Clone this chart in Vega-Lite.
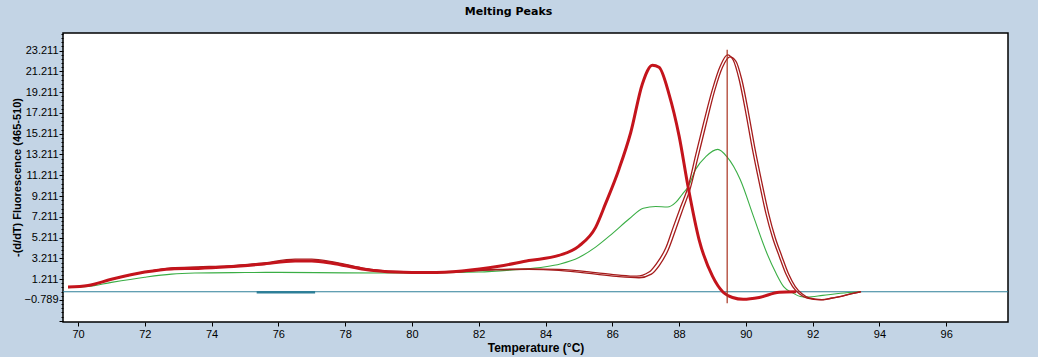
{
  "$schema": "https://vega.github.io/schema/vega-lite/v6.json",
  "autosize": "none",
  "width": 945,
  "height": 289,
  "padding": {"left": 63, "top": 33, "right": 30, "bottom": 35},
  "background": "#c3d4e5",
  "view": {"fill": "#ffffff", "stroke": "#000000", "strokeWidth": 1.5},
  "title": {"text": "Melting Peaks", "font": "DejaVu Sans", "fontSize": 11, "fontWeight": "bold", "color": "#000000", "anchor": "middle", "dx": -27, "offset": 11},
  "datasets": {
    "curves": [
      {"s": "A", "t": 69.7, "v": 0.45}, {"s": "A", "t": 70.3, "v": 0.6}, {"s": "A", "t": 71, "v": 1.2}, {"s": "A", "t": 72, "v": 1.9}, {"s": "A", "t": 72.8, "v": 2.2}, {"s": "A", "t": 73.6, "v": 2.25}, {"s": "A", "t": 74.5, "v": 2.4}, {"s": "A", "t": 75.5, "v": 2.65}, {"s": "A", "t": 76.5, "v": 2.95}, {"s": "A", "t": 77, "v": 2.95}, {"s": "A", "t": 77.6, "v": 2.75}, {"s": "A", "t": 78.5, "v": 2.2}, {"s": "A", "t": 79.5, "v": 1.9}, {"s": "A", "t": 80.5, "v": 1.85}, {"s": "A", "t": 81.5, "v": 2.0}, {"s": "A", "t": 82.6, "v": 2.45}, {"s": "A", "t": 83.5, "v": 3.0}, {"s": "A", "t": 84.4, "v": 3.5}, {"s": "A", "t": 85, "v": 4.4}, {"s": "A", "t": 85.5, "v": 6.2}, {"s": "A", "t": 85.8, "v": 8.5}, {"s": "A", "t": 86.2, "v": 11.8}, {"s": "A", "t": 86.55, "v": 15.3}, {"s": "A", "t": 86.9, "v": 20.0}, {"s": "A", "t": 87.2, "v": 21.8}, {"s": "A", "t": 87.4, "v": 21.6}, {"s": "A", "t": 87.7, "v": 19.0}, {"s": "A", "t": 88.0, "v": 15.0}, {"s": "A", "t": 88.27, "v": 10.1}, {"s": "A", "t": 88.6, "v": 5.0}, {"s": "A", "t": 89.0, "v": 1.5}, {"s": "A", "t": 89.32, "v": -0.05}, {"s": "A", "t": 89.6, "v": -0.55}, {"s": "A", "t": 89.92, "v": -0.72}, {"s": "A", "t": 90.4, "v": -0.55}, {"s": "A", "t": 91.0, "v": -0.05}, {"s": "A", "t": 91.5, "v": 0.0},

      {"s": "B1", "t": 69.7, "v": 0.45}, {"s": "B1", "t": 70.3, "v": 0.6}, {"s": "B1", "t": 71, "v": 1.2}, {"s": "B1", "t": 72, "v": 1.9}, {"s": "B1", "t": 72.8, "v": 2.3}, {"s": "B1", "t": 73.6, "v": 2.4}, {"s": "B1", "t": 74.5, "v": 2.5}, {"s": "B1", "t": 75.5, "v": 2.75}, {"s": "B1", "t": 76.5, "v": 3.15}, {"s": "B1", "t": 77, "v": 3.15}, {"s": "B1", "t": 77.6, "v": 2.9}, {"s": "B1", "t": 78.5, "v": 2.3}, {"s": "B1", "t": 79.5, "v": 1.95}, {"s": "B1", "t": 80.5, "v": 1.9}, {"s": "B1", "t": 81.5, "v": 2.0}, {"s": "B1", "t": 82.5, "v": 2.15}, {"s": "B1", "t": 83.5, "v": 2.2}, {"s": "B1", "t": 84.4, "v": 2.15}, {"s": "B1", "t": 85.5, "v": 1.85}, {"s": "B1", "t": 86.2, "v": 1.6}, {"s": "B1", "t": 86.73, "v": 1.5}, {"s": "B1", "t": 87.1, "v": 1.9}, {"s": "B1", "t": 87.33, "v": 2.74}, {"s": "B1", "t": 87.6, "v": 4.2}, {"s": "B1", "t": 87.83, "v": 6.27}, {"s": "B1", "t": 88.05, "v": 8.2}, {"s": "B1", "t": 88.27, "v": 10.1}, {"s": "B1", "t": 88.5, "v": 13.2}, {"s": "B1", "t": 88.73, "v": 16.2}, {"s": "B1", "t": 89.0, "v": 19.5}, {"s": "B1", "t": 89.23, "v": 21.7}, {"s": "B1", "t": 89.45, "v": 22.8}, {"s": "B1", "t": 89.62, "v": 22.3}, {"s": "B1", "t": 89.8, "v": 20.4}, {"s": "B1", "t": 90.0, "v": 17.2}, {"s": "B1", "t": 90.2, "v": 13.65}, {"s": "B1", "t": 90.4, "v": 10.5}, {"s": "B1", "t": 90.6, "v": 7.55}, {"s": "B1", "t": 90.8, "v": 5.2}, {"s": "B1", "t": 91.0, "v": 3.4}, {"s": "B1", "t": 91.2, "v": 1.7}, {"s": "B1", "t": 91.4, "v": 0.5}, {"s": "B1", "t": 91.6, "v": -0.2}, {"s": "B1", "t": 91.83, "v": -0.62}, {"s": "B1", "t": 92.23, "v": -0.79}, {"s": "B1", "t": 92.53, "v": -0.65}, {"s": "B1", "t": 92.83, "v": -0.47}, {"s": "B1", "t": 93.13, "v": -0.2}, {"s": "B1", "t": 93.43, "v": 0.0},

      {"s": "B2", "t": 69.7, "v": 0.45}, {"s": "B2", "t": 70.3, "v": 0.6}, {"s": "B2", "t": 71, "v": 1.2}, {"s": "B2", "t": 72, "v": 1.9}, {"s": "B2", "t": 72.8, "v": 2.25}, {"s": "B2", "t": 73.6, "v": 2.35}, {"s": "B2", "t": 74.5, "v": 2.45}, {"s": "B2", "t": 75.5, "v": 2.7}, {"s": "B2", "t": 76.5, "v": 3.0}, {"s": "B2", "t": 77, "v": 3.0}, {"s": "B2", "t": 77.6, "v": 2.8}, {"s": "B2", "t": 78.5, "v": 2.25}, {"s": "B2", "t": 79.5, "v": 1.9}, {"s": "B2", "t": 80.5, "v": 1.85}, {"s": "B2", "t": 81.5, "v": 1.95}, {"s": "B2", "t": 82.5, "v": 2.1}, {"s": "B2", "t": 83.5, "v": 2.15}, {"s": "B2", "t": 84.4, "v": 2.05}, {"s": "B2", "t": 85.5, "v": 1.7}, {"s": "B2", "t": 86.2, "v": 1.45}, {"s": "B2", "t": 86.8, "v": 1.35}, {"s": "B2", "t": 87.17, "v": 1.7}, {"s": "B2", "t": 87.4, "v": 2.5}, {"s": "B2", "t": 87.67, "v": 4.0}, {"s": "B2", "t": 87.9, "v": 6.0}, {"s": "B2", "t": 88.12, "v": 8.0}, {"s": "B2", "t": 88.34, "v": 10.0}, {"s": "B2", "t": 88.57, "v": 13.0}, {"s": "B2", "t": 88.8, "v": 16.0}, {"s": "B2", "t": 89.07, "v": 19.4}, {"s": "B2", "t": 89.3, "v": 21.6}, {"s": "B2", "t": 89.52, "v": 22.6}, {"s": "B2", "t": 89.7, "v": 22.2}, {"s": "B2", "t": 89.88, "v": 20.4}, {"s": "B2", "t": 90.08, "v": 17.2}, {"s": "B2", "t": 90.28, "v": 13.65}, {"s": "B2", "t": 90.48, "v": 10.5}, {"s": "B2", "t": 90.68, "v": 7.55}, {"s": "B2", "t": 90.88, "v": 5.2}, {"s": "B2", "t": 91.08, "v": 3.4}, {"s": "B2", "t": 91.28, "v": 1.7}, {"s": "B2", "t": 91.48, "v": 0.5}, {"s": "B2", "t": 91.68, "v": -0.2}, {"s": "B2", "t": 91.9, "v": -0.6}, {"s": "B2", "t": 92.28, "v": -0.75}, {"s": "B2", "t": 92.58, "v": -0.6}, {"s": "B2", "t": 92.88, "v": -0.42}, {"s": "B2", "t": 93.18, "v": -0.17}, {"s": "B2", "t": 93.45, "v": 0.0},

      {"s": "G", "t": 69.7, "v": 0.4}, {"s": "G", "t": 70.3, "v": 0.5}, {"s": "G", "t": 71, "v": 0.9}, {"s": "G", "t": 72, "v": 1.4}, {"s": "G", "t": 72.8, "v": 1.7}, {"s": "G", "t": 73.5, "v": 1.8}, {"s": "G", "t": 75, "v": 1.85}, {"s": "G", "t": 76, "v": 1.87}, {"s": "G", "t": 78, "v": 1.82}, {"s": "G", "t": 80, "v": 1.8}, {"s": "G", "t": 82, "v": 1.9}, {"s": "G", "t": 83, "v": 2.1}, {"s": "G", "t": 84, "v": 2.4}, {"s": "G", "t": 84.44, "v": 2.68}, {"s": "G", "t": 85, "v": 3.3}, {"s": "G", "t": 85.5, "v": 4.3}, {"s": "G", "t": 86, "v": 5.6}, {"s": "G", "t": 86.5, "v": 7.0}, {"s": "G", "t": 86.93, "v": 8.04}, {"s": "G", "t": 87.3, "v": 8.2}, {"s": "G", "t": 87.65, "v": 8.15}, {"s": "G", "t": 87.9, "v": 8.6}, {"s": "G", "t": 88.1, "v": 9.4}, {"s": "G", "t": 88.27, "v": 10.1}, {"s": "G", "t": 88.5, "v": 11.8}, {"s": "G", "t": 88.8, "v": 13.0}, {"s": "G", "t": 89.16, "v": 13.7}, {"s": "G", "t": 89.43, "v": 13.0}, {"s": "G", "t": 89.83, "v": 10.8}, {"s": "G", "t": 90.23, "v": 7.23}, {"s": "G", "t": 90.63, "v": 3.7}, {"s": "G", "t": 90.9, "v": 1.8}, {"s": "G", "t": 91.13, "v": 0.5}, {"s": "G", "t": 91.4, "v": -0.1}, {"s": "G", "t": 91.63, "v": -0.45}, {"s": "G", "t": 91.83, "v": -0.5}, {"s": "G", "t": 92.3, "v": -0.35}, {"s": "G", "t": 92.83, "v": -0.15}, {"s": "G", "t": 93.43, "v": 0.0}
    ],
    "baseline": [
      {"s": "base", "t": 69.55, "v": 0.0}, {"s": "base", "t": 97.85, "v": 0.0}
    ],
    "segment": [
      {"s": "seg", "t": 75.35, "v": -0.05}, {"s": "seg", "t": 77.1, "v": -0.05}
    ],
    "marker": [
      {"t": 89.44, "v1": -1.1, "v2": 23.3}
    ]
  },
  "encoding": {
    "x": {
      "field": "t", "type": "quantitative",
      "scale": {"domain": [69.55, 97.85], "nice": false, "zero": false},
      "axis": {
        "title": "Temperature (°C)",
        "values": [70, 72, 74, 76, 78, 80, 82, 84, 86, 88, 90, 92, 94, 96],
        "grid": false, "domain": false, "tickColor": "#000000", "tickSize": 4,
        "labelFont": "Liberation Sans", "labelFontSize": 11, "labelColor": "#000000", "labelPadding": 2,
        "titleFont": "Liberation Sans", "titleFontSize": 12, "titleFontWeight": "bold", "titleColor": "#000000", "titlePadding": 3
      }
    },
    "y": {
      "field": "v", "type": "quantitative",
      "scale": {"domain": [-2.91, 24.9], "nice": false, "zero": false},
      "axis": {
        "title": "-(d/dT) Fluorescence (465-510)",
        "values": [-2.789, -2.389, -1.989, -1.589, -1.189, -0.789, -0.389, 0.011, 0.411, 0.811, 1.211, 1.611, 2.011, 2.411, 2.811, 3.211, 3.611, 4.011, 4.411, 4.811, 5.211, 5.611, 6.011, 6.411, 6.811, 7.211, 7.611, 8.011, 8.411, 8.811, 9.211, 9.611, 10.011, 10.411, 10.811, 11.211, 11.611, 12.011, 12.411, 12.811, 13.211, 13.611, 14.011, 14.411, 14.811, 15.211, 15.611, 16.011, 16.411, 16.811, 17.211, 17.611, 18.011, 18.411, 18.811, 19.211, 19.611, 20.011, 20.411, 20.811, 21.211, 21.611, 22.011, 22.411, 22.811, 23.211, 23.611, 24.011, 24.411, 24.811],
        "labelExpr": "abs((datum.value+0.789)/2 - round((datum.value+0.789)/2)) < 0.01 && datum.value > -1 ? format(datum.value, '.3f') : ''",
        "tickSize": {"condition": {"test": "abs((datum.value+0.789)/2 - round((datum.value+0.789)/2)) < 0.01", "value": 4}, "value": 2},
        "labelOverlap": false, "labelBound": false,
        "grid": false, "domain": false, "tickColor": "#000000",
        "labelFont": "Liberation Sans", "labelFontSize": 11, "labelColor": "#000000", "labelPadding": 1,
        "titleFont": "Liberation Sans", "titleFontSize": 11, "titleFontWeight": "bold", "titleColor": "#000000",
        "titleX": -46, "titleY": 144, "titleAngle": -90, "titleAlign": "center", "titleBaseline": "middle"
      }
    }
  },
  "layer": [
    {"data": {"name": "baseline"}, "mark": {"type": "line", "color": "#2e7f98", "strokeWidth": 1.2}},
    {"data": {"name": "segment"}, "mark": {"type": "line", "color": "#2e7f98", "strokeWidth": 2.5}},
    {"data": {"name": "curves"}, "transform": [{"filter": "datum.s === 'G'"}], "mark": {"type": "line", "color": "#3aae45", "strokeWidth": 1.1, "interpolate": "monotone"}},
    {"data": {"name": "curves"}, "transform": [{"filter": "datum.s === 'B1'"}], "mark": {"type": "line", "color": "#a51c1c", "strokeWidth": 1.3, "interpolate": "monotone"}},
    {"data": {"name": "curves"}, "transform": [{"filter": "datum.s === 'B2'"}], "mark": {"type": "line", "color": "#a51c1c", "strokeWidth": 1.3, "interpolate": "monotone"}},
    {"data": {"name": "curves"}, "transform": [{"filter": "datum.s === 'A'"}], "mark": {"type": "line", "color": "#c4141c", "strokeWidth": 3, "interpolate": "monotone"}},
    {"data": {"name": "marker"}, "mark": {"type": "rule", "color": "#a8321e", "strokeWidth": 1.2}, "encoding": {"x": {"field": "t", "type": "quantitative"}, "y": {"field": "v1", "type": "quantitative"}, "y2": {"field": "v2"}}}
  ]
}
